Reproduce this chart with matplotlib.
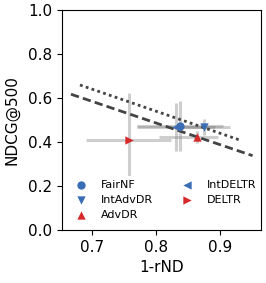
import matplotlib
matplotlib.use("Agg")
import matplotlib.pyplot as plt
import numpy as np

methods = ["FairNF", "IntAdvDR", "AdvDR", "IntDELTR", "DELTR"]
markers = ["o", "v", "^", "<", ">"]
colors = ["#3b6db5", "#3b6db5", "#d62a2a", "#3b6db5", "#d62a2a"]
x_vals = [0.837, 0.875, 0.863, 0.831, 0.758]
y_vals = [0.473, 0.467, 0.421, 0.467, 0.409]
x_err_low = [0.067, 0.038, 0.059, 0.060, 0.066]
x_err_high = [0.067, 0.040, 0.034, 0.060, 0.066]
y_err = [0.113, 0.037, 0.027, 0.110, 0.213]

# trend lines (endpoints)
dotted_x = [0.682, 0.933]
dotted_y = [0.659, 0.406]
dashed_x = [0.668, 0.950]
dashed_y = [0.617, 0.338]

plt.rcParams['font.family'] = ['DejaVu Sans']
fig = plt.figure(figsize=(2.66, 2.83), dpi=100)
ax = fig.add_axes([0.233, 0.187, 0.748, 0.778])

for i, m in enumerate(methods):
    ax.errorbar(x_vals[i], y_vals[i],
                xerr=[[x_err_low[i]], [x_err_high[i]]], yerr=[[y_err[i]], [y_err[i]]],
                fmt="none", ecolor="grey", alpha=0.38, elinewidth=2.2, capsize=0, zorder=1)

ax.plot(dotted_x, dotted_y, linestyle=(0, (1, 1.2)), color="#444444", lw=2, zorder=2)
ax.plot(dashed_x, dashed_y, linestyle=(0, (3, 1.5)), color="#444444", lw=2, zorder=2)

for i, m in enumerate(methods):
    ax.scatter(x_vals[i], y_vals[i], marker=markers[i], color=colors[i], s=36,
               label=m, zorder=3, linewidths=0)

leg = ax.legend(loc="lower left", ncol=2, fontsize=8, frameon=True, framealpha=1,
                edgecolor="none", facecolor="white", handletextpad=1.0,
                columnspacing=2.3, borderpad=0.4, labelspacing=0.45,
                bbox_to_anchor=(0.0, 0.0), handlelength=1.56)

ax.set_xlim(0.654, 0.963)
ax.set_ylim(0.0, 1.0)
ax.set_xticks([0.7, 0.8, 0.9])
ax.set_yticks([0.0, 0.2, 0.4, 0.6, 0.8, 1.0])
ax.tick_params(labelsize=11)
ax.set_xlabel("1-rND", fontsize=11)
ax.set_ylabel("NDCG@500", fontsize=11, labelpad=6)

fig.savefig("out.png", dpi=100)
